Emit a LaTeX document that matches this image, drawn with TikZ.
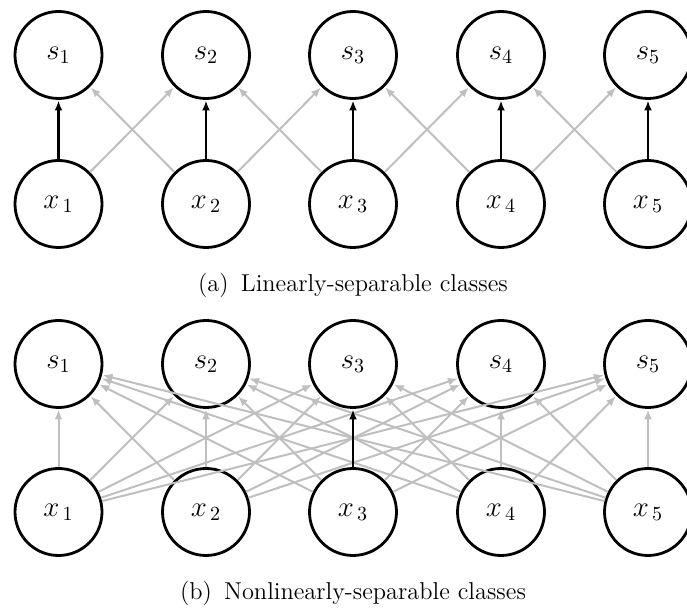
\documentclass[tikz,border=0pt]{standalone}
\usetikzlibrary{arrows.meta}
\begin{document}
\begin{tikzpicture}[x=0.5pt,y=-0.5pt,
  unit/.style={circle,draw=black,line width=1.4pt,minimum size=43.5pt,inner sep=0pt,font=\Large},
  weak/.style={draw=black!25,line width=1pt,-{Latex[length=5pt,width=4pt]},shorten >=0.3pt},
  strong/.style={draw=black,line width=1.3pt,-{Latex[length=5pt,width=4pt]},shorten >=0.3pt},
  caption/.style={font=\fontsize{12.2}{14}\selectfont,inner sep=0pt}]
\useasboundingbox (0,0) rectangle (687,608);
\clip (0,0) rectangle (687,608);

% (a) each input feeds its own output and its two neighbours
\foreach \i/\xx in {1/58.5,2/206,3/353,4/501,5/648}{
  \node[unit] (as\i) at (\xx,55) {$s_\i$};
  \node[unit] (ax\i) at (\xx,204) {$x_{\,\i}$};
}
\foreach \i/\j in {1/2,2/1,2/3,3/2,3/4,4/3,4/5,5/4}{
  \draw[weak] (ax\i) -- (as\j);
}
\foreach \i in {1,...,5}{
  \draw[strong] (ax\i) -- (as\i);
}
\node[caption] (capa) at (353,285) {(a)\enspace Linearly-separable classes};

% (b) every input feeds every output
\foreach \i/\xx in {1/58.5,2/206,3/353,4/501,5/648}{
  \node[unit] (bs\i) at (\xx,364) {$s_\i$};
  \node[unit] (bx\i) at (\xx,512) {$x_{\,\i}$};
}
\foreach \i in {1,...,5}{
  \foreach \j in {1,...,5}{
    \ifnum\i=3 \ifnum\j=3 \else \draw[weak] (bx\i) -- (bs\j); \fi
    \else \draw[weak] (bx\i) -- (bs\j); \fi
  }
}
\draw[strong] (bx3) -- (bs3);
\node[caption] (capb) at (353,593) {(b)\enspace Nonlinearly-separable classes};
\end{tikzpicture}
\end{document}
